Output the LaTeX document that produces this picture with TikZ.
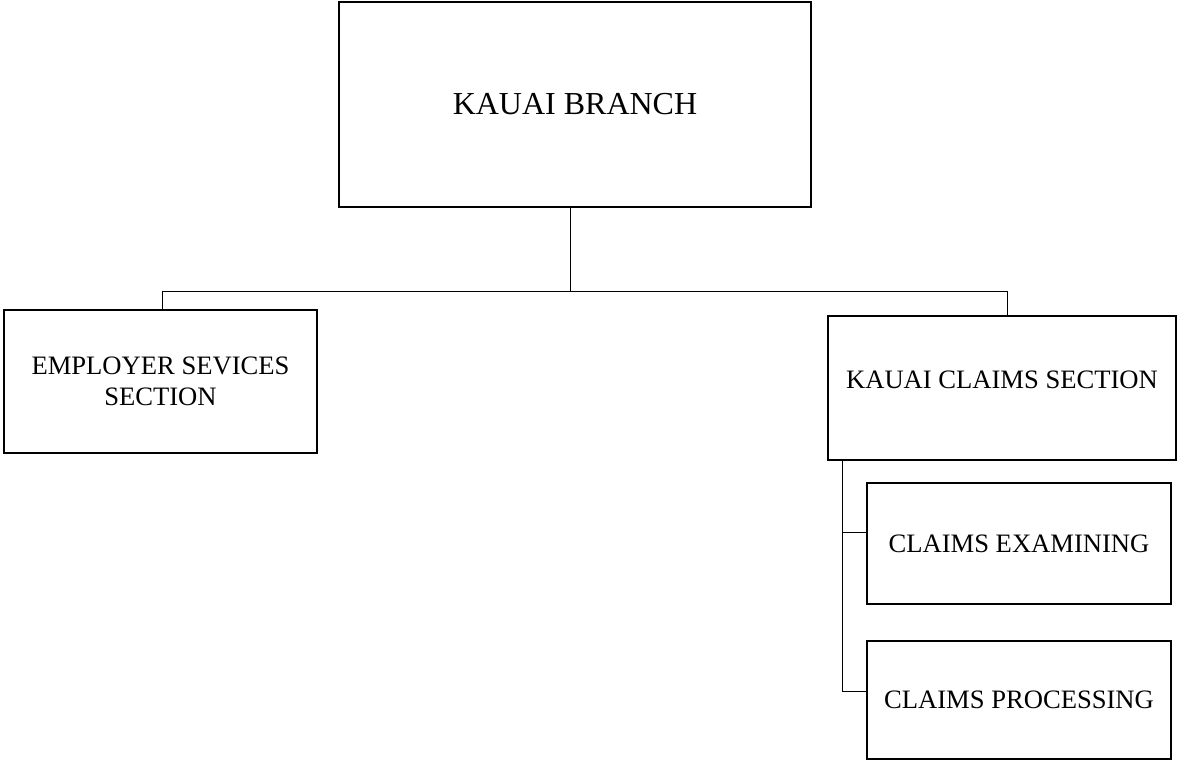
\documentclass[tikz,border=0pt]{standalone}
\usepackage{fontspec}
\setmainfont{Liberation Serif}
\usepackage{tikz}
\usetikzlibrary{positioning}
\usetikzlibrary{calc}
\tikzset{
	unit/.style = {rectangle, draw, line width=1.8pt, align=center, inner sep=0pt,
	 font=\fontsize{26.6}{31}\selectfont},
	link/.style = {line width=0.9pt},
}

\begin{document}
\begin{tikzpicture}[x=1pt,y=-1pt]
    \useasboundingbox (0,0) rectangle (1177,761);
               \node at(575,104.5) (Branch) [unit, minimum width=472pt, minimum height=205pt,
                 font=\fontsize{32}{38}\selectfont] {KAUAI BRANCH};
               \node at(160.5,381.5) (Employer) [unit, minimum width=313pt, minimum height=143pt] {EMPLOYER SEVICES\\SECTION};
               \node at(1002,388) (ClaimsSec) [unit, minimum width=348pt, minimum height=144pt,
                 text height=18pt, text depth=18pt] {KAUAI CLAIMS SECTION};
               \node at(1019,543.5) (Examining) [unit, minimum width=304pt, minimum height=121pt] {CLAIMS EXAMINING};
               \node at(1019,700) (Processing) [unit, minimum width=304pt, minimum height=118pt] {CLAIMS PROCESSING};
               \coordinate (Junction) at (570,291);
               \coordinate (Spine) at ([xshift=15pt]ClaimsSec.south west);
                \draw[link] (Junction |- Branch.south) -- (Junction);
                \draw[link] ([xshift=1.5pt]Employer.north) |- (Junction);
                \draw[link] ([xshift=5pt]ClaimsSec.north) |- (Junction);
                \draw[link] (Spine) |- ([yshift=11pt]Examining.west);
                \draw[link] (Spine) |- ([yshift=9pt]Processing.west);
        \end{tikzpicture}
\end{document}
